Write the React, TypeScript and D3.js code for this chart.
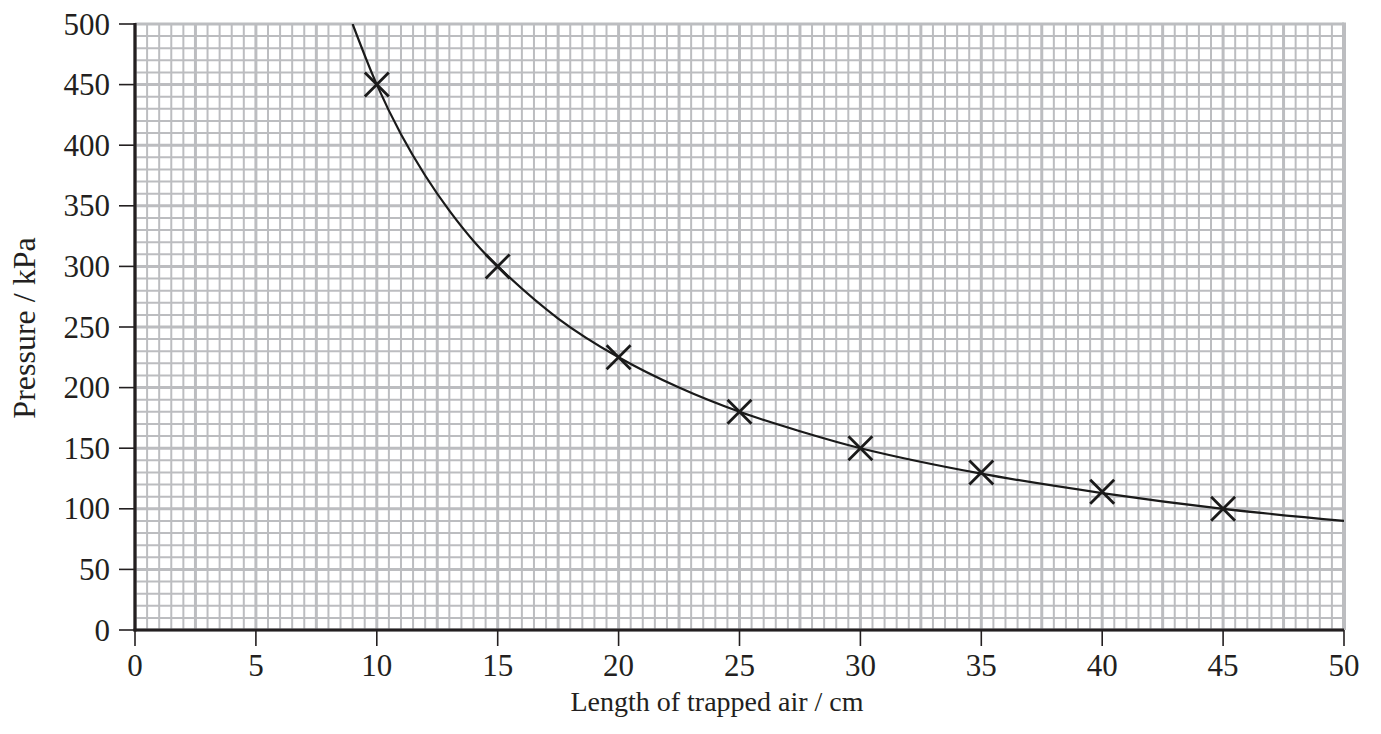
import React from 'react';
import * as d3 from 'd3';

// measured points (crosses)
const lengths = [10, 15, 20, 25, 30, 35, 40, 45];
const pressures = [450, 300, 225, 180, 150, 130, 114, 100];

// best-fit curve
const curveLengths = [9, 10, 11, 12, 13, 14, 15, 17.5, 20, 22.5, 25, 27.5, 30, 35, 40, 45, 50];
const curvePressures = [500, 450, 409, 375, 346, 321, 300, 257, 225, 200, 180, 164, 150, 129, 113, 100, 90];

const xTicks = [0, 5, 10, 15, 20, 25, 30, 35, 40, 45, 50];
const yTicks = [0, 50, 100, 150, 200, 250, 300, 350, 400, 450, 500];

const W = 1381;
const H = 734;
const left = 135;
const right = 1344;
const top = 24;
const bottom = 630;

const font = '"Liberation Serif", "Times New Roman", serif';
const gridColor = '#bcbdc0';

export default function App() {
  const x = d3.scaleLinear().domain([0, 50]).range([left, right]);
  const y = d3.scaleLinear().domain([0, 500]).range([bottom, top]);

  // grid: minor every 0.5 cm / 10 kPa, heavier every 5th line
  const vLines = d3.range(0, 101).map((i) => ({ v: i * 0.5, major: i % 5 === 0 }));
  const hLines = d3.range(0, 51).map((i) => ({ v: i * 10, major: i % 5 === 0 }));

  const curvePts: [number, number][] = curveLengths.map((l, i) => [l, curvePressures[i]]);
  const line = d3
    .line<[number, number]>()
    .x((d) => x(d[0]))
    .y((d) => y(d[1]))
    .curve(d3.curveCatmullRom.alpha(0.5));

  const s = 12; // half size of a cross

  return (
    <svg
      width={W}
      height={H}
      style={{ position: 'absolute', left: 0, top: 0, background: '#fff' }}
      fontFamily={font}
    >
      <defs>
        <clipPath id="plot">
          <rect x={left} y={top} width={right - left} height={bottom - top} />
        </clipPath>
      </defs>

      {/* graph paper */}
      <g>
        {hLines.map((d) => (
          <line
            key={'h' + d.v}
            x1={left}
            x2={right}
            y1={y(d.v)}
            y2={y(d.v)}
            stroke={gridColor}
            strokeWidth={d.major ? 3 : 2}
          />
        ))}
        {vLines.map((d) => (
          <line
            key={'v' + d.v}
            x1={x(d.v)}
            x2={x(d.v)}
            y1={top}
            y2={bottom}
            stroke={gridColor}
            strokeWidth={d.major ? 3 : 2}
          />
        ))}
        <line x1={right} x2={right} y1={top - 1.5} y2={bottom} stroke={gridColor} strokeWidth={4} />
      </g>

      {/* fitted curve */}
      <path d={line(curvePts) || ''} fill="none" stroke="#1a1a1a" strokeWidth={2.2} clipPath="url(#plot)" />

      {/* crosses */}
      {lengths.map((l, i) => {
        const cx = x(l);
        const cy = y(pressures[i]);
        return (
          <g key={l} stroke="#1a1a1a" strokeWidth={2.8}>
            <line x1={cx - s} y1={cy - s} x2={cx + s} y2={cy + s} />
            <line x1={cx - s} y1={cy + s} x2={cx + s} y2={cy - s} />
          </g>
        );
      })}

      {/* axes */}
      <line x1={left} x2={left} y1={top - 1} y2={bottom + 1.5} stroke="#231f20" strokeWidth={3.2} />
      <line x1={left - 1.5} x2={right} y1={bottom} y2={bottom} stroke="#231f20" strokeWidth={3.2} />

      {yTicks.map((t) => (
        <g key={'yt' + t}>
          <line x1={left - 16} x2={left} y1={y(t)} y2={y(t)} stroke="#231f20" strokeWidth={1.6} />
          <text x={110} y={y(t)} dy="0.34em" textAnchor="end" fontSize={31} fill="#231f20">
            {t}
          </text>
        </g>
      ))}
      {xTicks.map((t) => (
        <g key={'xt' + t}>
          <line x1={x(t)} x2={x(t)} y1={bottom} y2={bottom + 16} stroke="#231f20" strokeWidth={1.6} />
          <text x={x(t)} y={676} textAnchor="middle" fontSize={31} fill="#231f20">
            {t}
          </text>
        </g>
      ))}

      <text x={717} y={711} textAnchor="middle" fontSize={28} fill="#231f20">
        Length of trapped air / cm
      </text>
      <text
        transform={`translate(35, 328) rotate(-90)`}
        textAnchor="middle"
        fontSize={32}
        fill="#231f20"
      >
        Pressure / kPa
      </text>
    </svg>
  );
}
